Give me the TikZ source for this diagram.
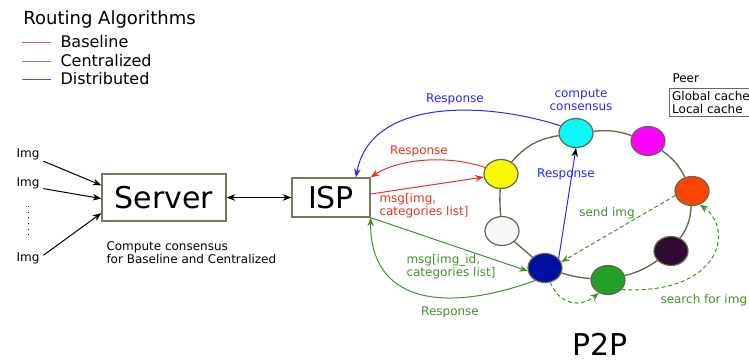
\documentclass[tikz,border=0pt]{standalone}
\usepackage{fontspec}
\setmainfont{DejaVu Sans}
\usetikzlibrary{shapes.geometric,arrows.meta}

\definecolor{txtred}{RGB}{232,48,36}
\definecolor{txtgreen}{RGB}{64,146,40}
\definecolor{txtblue}{RGB}{40,40,240}
\definecolor{legred}{RGB}{232,90,90}
\definecolor{leggreen}{RGB}{110,160,90}
\definecolor{legblue}{RGB}{80,80,225}
\definecolor{ringcol}{RGB}{95,105,75}
\definecolor{boxcol}{RGB}{110,125,95}
\definecolor{pyellow}{RGB}{248,248,0}
\definecolor{pcyan}{RGB}{12,248,248}
\definecolor{pmagenta}{RGB}{255,0,255}
\definecolor{porange}{RGB}{255,68,0}
\definecolor{ppurple}{RGB}{48,10,50}
\definecolor{pgreen}{RGB}{34,160,42}
\definecolor{pblue}{RGB}{0,16,160}
\definecolor{plgray}{RGB}{246,248,250}

\tikzset{every picture/.style={line width=0.75pt}}
\tikzset{
  small/.style={font=\fontsize{9}{9.75}\selectfont, inner sep=0pt, align=left},
  big/.style={font=\fontsize{22.5}{26}\selectfont},
  box/.style={draw=boxcol, line width=1pt, inner sep=0pt, big},
  peer/.style={ellipse, draw=ringcol, line width=0.9pt, minimum width=25.5pt, minimum height=21.75pt, inner sep=0pt},
  ring/.style={draw=ringcol, line width=1pt},
  arr/.style={-{Stealth[length=6.5pt,width=5pt]}},
  dashline/.style={dash pattern=on 3pt off 2pt}
}

\begin{document}
\begin{tikzpicture}[x=0.75pt,y=0.75pt,yscale=-1,xscale=1]
\useasboundingbox (0,0) rectangle (749,361);

% Legend
\node (title) [anchor=west, inner sep=0pt, font=\fontsize{13.5}{16}\selectfont] at (23,20) {Routing Algorithms};
\foreach \name/\col/\y in {Baseline/legred/42, Centralized/leggreen/61, Distributed/legblue/79} {
  \draw [\col] (22,\y) -- (51,\y) ;
  \node (leg\name) [anchor=west, inner sep=0pt, font=\fontsize{12}{14}\selectfont] at (60,\y) {\name};
}

%Shape: Rectangle
\node (server) [box, minimum width=93pt, minimum height=35.25pt] at (164,197.5) {Server};
%Shape: Rectangle
\node (isp) [box, minimum width=58.5pt, minimum height=29.25pt] at (331,197.5) {ISP};

% Text Node
\node (img1) [small, outer sep=3pt] at (28,154) {Img};
\node (img2) [small, outer sep=3pt] at (28,183) {Img};
\node (img3) [small, outer sep=3pt] at (28,258) {Img};
\node (srvnote) [small, anchor=west] at (106,253) {Compute consensus\\for Baseline and Centralized};

%Straight Lines
\draw [arr] (img1.-25) -- (server.169) ;
\draw [arr] (img2.-20) -- (server.181) ;
\draw [arr] (img3.10) -- (server.194) ;
\draw [dash pattern=on 0.75pt off 3.5pt, shorten <=10pt, shorten >=8pt] (img2) -- (img3) ;
\draw [{Stealth[length=6.5pt,width=5pt]}-{Stealth[length=6.5pt,width=5pt]}] (server) -- (isp) ;

%Shape: Ellipse
\foreach \name/\x/\y in {yellow/501/174, cyan/576/133, magenta/648/141, orange/692/191,
                         purple/671/251, green/608/280, blue/545/268, lgray/502/231}
  \node (\name) [peer, fill=p\name] at (\x,\y) {};

%Curve Lines
\foreach \a/\b/\bend in {yellow/cyan/20, cyan/magenta/12, magenta/orange/14, orange/purple/16,
                         purple/green/10, green/blue/6, blue/lgray/0, lgray/yellow/4}
  \draw [ring] (\a) to [bend right=\bend] (\b) ;

% Peer legend
\node (peerlbl) [small, anchor=west] at (672,78) {Peer};
\node (peerbox) [small, anchor=north west, draw=black!60, inner sep=2pt] at (669,88) {Global cache\\Local cache};

% Blue
\draw [arr, txtblue] (cyan.155) .. controls (480,100) and (370,100) .. (isp.39) ;
\draw [txtblue, -{Stealth[length=6.5pt,width=5pt,black]}] (blue.35) -- (cyan.south) ;
\node (bluersp) [small, text=txtblue] at (455,99) {Response};
\node (cons) [small, text=txtblue, align=center] at (581,99.5) {compute\\consensus};
\node (bluersp2) [small, text=txtblue] at (566,174) {Response};

% Red
\draw [arr, txtred] (yellow.158) .. controls (450,155) and (400,158) .. (isp.north east) ;
\draw [arr, txtred] (isp.5) -- (yellow.190) ;
\node (redrsp) [small, text=txtred] at (419,151) {Response};
\node (redmsg) [small, text=txtred, anchor=west] at (379,205.5) {msg[img,\\categories list]};

% Green
\draw [arr, txtgreen] (isp.south east) -- (blue.190) ;
\draw [arr, txtgreen] (blue.232) .. controls (440,315) and (370,300) .. (isp.south east) ;
\draw [arr, txtgreen, dashline] (orange.195) -- (blue.20) ;
\draw [arr, txtgreen, dashline] (blue.-70) .. controls (560,305) and (580,308) .. (green.235) ;
\draw [arr, txtgreen, dashline] (green.-35) .. controls (720,295) and (735,230) .. (orange.-60) ;
\node (greenmsg) [small, text=txtgreen, anchor=west] at (406,267) {msg[img\_id,\\categories list]};
\node (greenrsp) [small, text=txtgreen] at (450,312) {Response};
\node (sendimg) [small, text=txtgreen] at (607,213) {send img};
\node (search) [small, text=txtgreen, anchor=west] at (660,300) {search for img};

% Text Node
\node (p2p) [big, inner sep=0pt] at (600,344) {P2P};

\end{tikzpicture}
\end{document}
